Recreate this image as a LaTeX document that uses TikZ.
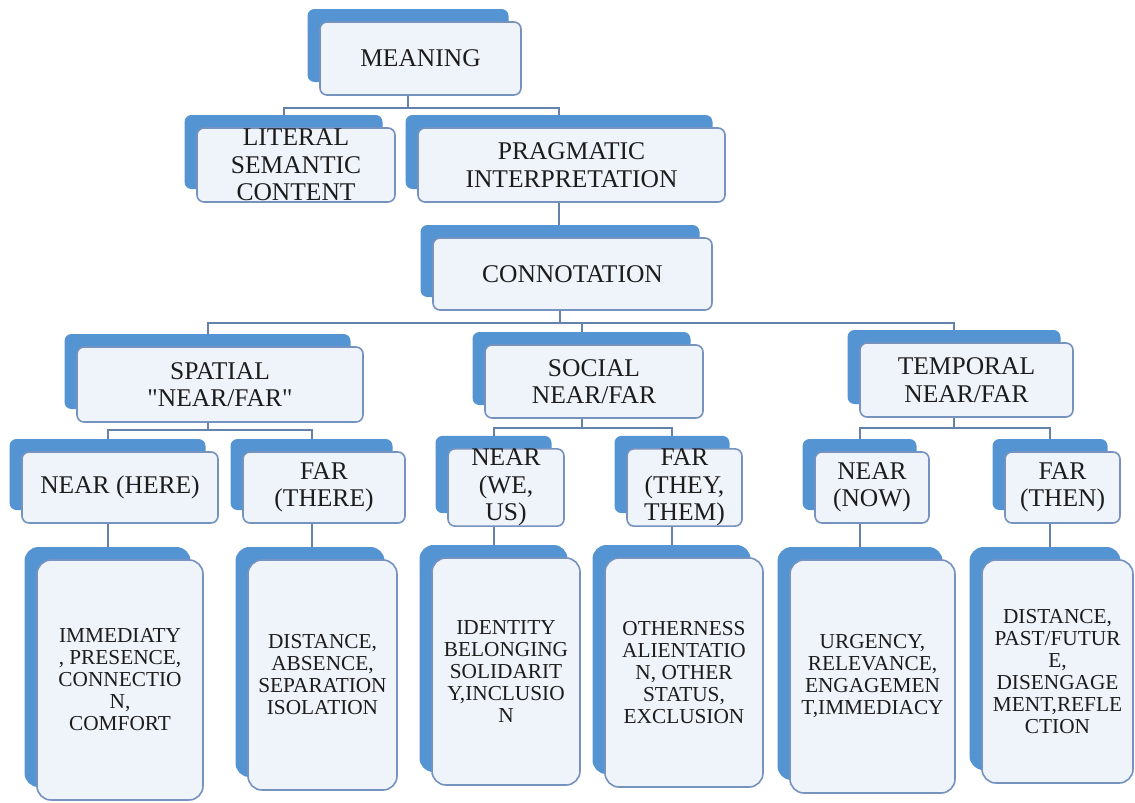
\documentclass[tikz,border=0pt]{standalone}
\usepackage{fontspec}
\setmainfont{Liberation Serif}
\newfontfamily\plainq{Liberation Serif}
\usetikzlibrary{shadows,calc}
\definecolor{backblue}{RGB}{84,148,210}
\definecolor{frontfill}{RGB}{239,243,250}
\definecolor{edgeblue}{RGB}{118,146,190}
\definecolor{connblue}{RGB}{100,130,172}
\definecolor{txt}{RGB}{28,28,28}
\begin{document}
\begin{tikzpicture}[x=1pt,y=-1pt,
  box/.style={draw=edgeblue, line width=1.6pt, fill=frontfill, rounded corners=7pt,
    align=center, text=txt, inner sep=0pt,
    general shadow={fill=backblue, draw=none, shadow xshift=-12.5pt, shadow yshift=13pt}},
  upper/.style={box, font=\fontsize{25.5}{27.5}\selectfont},
  lower/.style={box, rounded corners=14pt, font=\fontsize{21.3}{22}\selectfont},
  conn/.style={draw=connblue, line width=2pt}]
\useasboundingbox (0,0) rectangle (1135,803);
\fill[white] (0,0) rectangle (1135,803);

% level 0-1
\node[upper, minimum width=201pt, minimum height=73pt] (meaning) at (420.5,58.5) {MEANING};
\node[upper, minimum width=198pt, minimum height=74pt] (literal) at (296,165) {LITERAL\\SEMANTIC\\CONTENT};
\node[upper, minimum width=307pt, minimum height=74pt] (pragmatic) at (571.5,165) {PRAGMATIC\\INTERPRETATION};
\node[upper, minimum width=279pt, minimum height=72pt] (connotation) at (572.5,274) {CONNOTATION};

% level 2
\node[upper, minimum width=286pt, minimum height=75pt] (spatial) at (220,384.5) {SPATIAL\\{\plainq"}NEAR/FAR{\plainq"}};
\node[upper, minimum width=218pt, minimum height=73pt] (social) at (594,381.5) {SOCIAL\\NEAR/FAR};
\node[upper, minimum width=213pt, minimum height=74pt] (temporal) at (966.5,380) {TEMPORAL\\NEAR/FAR};

% level 3
\node[upper, minimum width=196pt, minimum height=71pt] (nearhere) at (120,487.5) {NEAR (HERE)};
\node[upper, minimum width=162pt, minimum height=71pt] (farthere) at (324,487.5) {FAR\\(THERE)};
\node[upper, minimum width=116pt, minimum height=71pt] (nearwe) at (506,487.5) {NEAR\\(WE,\\US)};
\node[upper, minimum width=115pt, minimum height=71pt] (farthey) at (684.5,487.5) {FAR\\(THEY,\\THEM)};
\node[upper, minimum width=114pt, minimum height=71pt] (nearnow) at (872,487.5) {NEAR\\(NOW)};
\node[upper, minimum width=115pt, minimum height=71pt] (farthen) at (1062.5,487.5) {FAR\\(THEN)};

% level 4
\node[lower, minimum width=166pt, minimum height=240pt] (imm) at (120,680) {IMMEDIATY\\, PRESENCE,\\CONNECTIO\\N,\\COMFORT};
\node[lower, minimum width=149pt, minimum height=230pt] (dist) at (322.5,675) {DISTANCE,\\ABSENCE,\\SEPARATION\\ISOLATION};
\node[lower, minimum width=148pt, minimum height=227pt] (ident) at (506,671.5) {IDENTITY\\BELONGING\\SOLIDARIT\\Y,INCLUSIO\\N};
\node[lower, minimum width=158pt, minimum height=229pt] (other) at (684,672.5) {OTHERNESS\\ALIENTATIO\\N, OTHER\\STATUS,\\EXCLUSION};
\node[lower, minimum width=165pt, minimum height=233pt] (urg) at (872.5,676.5) {URGENCY,\\RELEVANCE,\\ENGAGEMEN\\T,IMMEDIACY};
\node[lower, minimum width=151pt, minimum height=223pt] (distb) at (1057.5,671.5) {DISTANCE,\\PAST/FUTUR\\E,\\DISENGAGE\\MENT,REFLE\\CTION};

% connectors
\draw[conn] ($(meaning.south)+(-12.5,0)$) -- ++(0,12) -| ($(literal.north)+(-12.5,-12)$);
\draw[conn] ($(meaning.south)+(-12.5,0)$) -- ++(0,12) -| ($(pragmatic.north)+(-12.5,-12)$);
\draw[conn] ($(pragmatic.south)+(-12.5,0)$) -- ($(connotation.north)+(-13.5,-12)$);

\draw[conn] ($(connotation.south)+(-12.5,0)$) -- ++(0,12) -| ($(spatial.north)+(-12.5,-12)$);
\draw[conn] ($(connotation.south)+(-12.5,0)$) -- ++(0,12) -| ($(social.north)+(-12.5,-12)$);
\draw[conn] ($(connotation.south)+(-12.5,0)$) -- ++(0,12) -| ($(temporal.north)+(-12.5,-12)$);

\draw[conn] ($(spatial.south)+(-12.5,0)$) -- ++(0,7) -| ($(nearhere.north)+(-12.5,-12)$);
\draw[conn] ($(spatial.south)+(-12.5,0)$) -- ++(0,7) -| ($(farthere.north)+(-12.5,-12)$);
\draw[conn] ($(social.south)+(-12.5,0)$) -- ++(0,9) -| ($(nearwe.north)+(-12.5,-12)$);
\draw[conn] ($(social.south)+(-12.5,0)$) -- ++(0,9) -| ($(farthey.north)+(-12.5,-12)$);
\draw[conn] ($(temporal.south)+(-12.5,0)$) -- ++(0,10) -| ($(nearnow.north)+(-12.5,-12)$);
\draw[conn] ($(temporal.south)+(-12.5,0)$) -- ++(0,10) -| ($(farthen.north)+(-12.5,-12)$);

\draw[conn] ($(nearhere.south)+(-12.5,0)$) -- ($(imm.north)+(-12.5,-12)$);
\draw[conn] ($(farthere.south)+(-12.5,0)$) |- ($(dist.north)+(-11,-12)$);
\draw[conn] ($(nearwe.south)+(-12.5,0)$) -- ($(ident.north)+(-12.5,-12)$);
\draw[conn] ($(farthey.south)+(-12.5,0)$) |- ($(other.north)+(-12,-12)$);
\draw[conn] ($(nearnow.south)+(-12.5,0)$) -- ($(urg.north)+(-13,-12)$);
\draw[conn] ($(farthen.south)+(-12.5,0)$) |- ($(distb.north)+(-7.5,-12)$);
\end{tikzpicture}
\end{document}
